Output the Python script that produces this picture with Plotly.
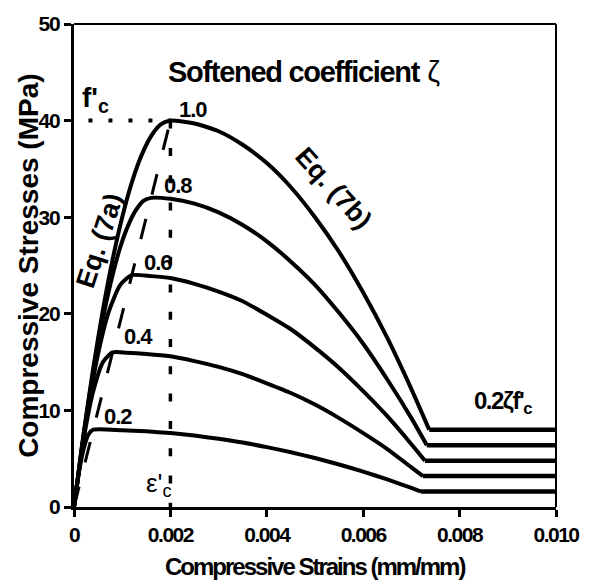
import plotly.graph_objects as go

# ---------------- data ----------------
zeta_labels = ["1.0", "0.8", "0.6", "0.4", "0.2"]

strain_10 = [0, 0.0002, 0.0004, 0.0006, 0.0008, 0.001, 0.0012, 0.0014, 0.0016, 0.0018, 0.002,
             0.0025, 0.003, 0.0035, 0.004, 0.0045, 0.005, 0.0055, 0.006, 0.0065, 0.007, 0.00737]
stress_10 = [0, 7.6, 14.4, 20.4, 25.6, 30.0, 33.6, 36.4, 38.4, 39.6, 40.0,
             39.7, 38.9, 37.5, 35.6, 33.1, 30.0, 26.4, 22.2, 17.5, 12.2, 8.0]

strain_08 = [0, 0.00016, 0.00032, 0.00048, 0.00064, 0.0008, 0.00096, 0.00112, 0.00128, 0.00144,
             0.0016, 0.002, 0.0025, 0.003, 0.0035, 0.004, 0.0045, 0.005, 0.0055, 0.006, 0.0065,
             0.007, 0.00732]
stress_08 = [0, 6.1, 11.5, 16.3, 20.5, 24.0, 26.9, 29.1, 30.7, 31.7,
             32.0, 31.9, 31.4, 30.5, 29.2, 27.5, 25.4, 23.0, 20.1, 16.9, 13.2,
             9.2, 6.4]

strain_06 = [0, 0.00024, 0.00048, 0.00072, 0.00096, 0.0012, 0.0016, 0.002, 0.0025, 0.003,
             0.0035, 0.004, 0.0045, 0.005, 0.0055, 0.006, 0.0065, 0.007, 0.00728]
stress_06 = [0, 8.6, 15.4, 20.2, 23.0, 24.0, 23.9, 23.7, 23.1, 22.3,
             21.3, 19.9, 18.4, 16.5, 14.4, 12.0, 9.4, 6.5, 4.8]

strain_04 = [0, 0.0002, 0.0004, 0.0006, 0.0008, 0.0011, 0.0015, 0.002, 0.0025, 0.003,
             0.0035, 0.004, 0.0045, 0.005, 0.0055, 0.006, 0.0065, 0.007, 0.00724]
stress_04 = [0, 7.0, 12.0, 15.0, 16.0, 15.97, 15.85, 15.6, 15.1, 14.5,
             13.75, 12.8, 11.8, 10.6, 9.2, 7.65, 6.0, 4.1, 3.2]

strain_02 = [0, 0.0001, 0.0002, 0.0003, 0.0004, 0.001, 0.0015, 0.002, 0.0025, 0.003,
             0.0035, 0.004, 0.0045, 0.005, 0.0055, 0.006, 0.0065, 0.007, 0.0072]
stress_02 = [0, 3.5, 6.0, 7.5, 8.0, 7.95, 7.83, 7.65, 7.39, 7.06,
             6.67, 6.2, 5.67, 5.07, 4.4, 3.66, 2.85, 1.97, 1.6]

tail_end_strain = 0.010

# Eq. (7a) dashed locus of peaks, and dotted guide lines
eq7a_strain = [0, 0.002]
eq7a_stress = [0, 40]
fc_guide_strain = [0.0003, 0.002]
fc_guide_stress = [40, 40]
eps_guide_strain = [0.002, 0.002]
eps_guide_stress = [40, 0]

x_ticks = [0, 0.002, 0.004, 0.006, 0.008, 0.010]
x_ticklabels = ["0", "0.002", "0.004", "0.006", "0.008", "0.010"]
y_ticks = [0, 10, 20, 30, 40, 50]
y_ticklabels = ["0", "10", "20", "30", "40", "50"]

# label anchor points (strain, stress)
zeta_label_x = [0.00246, 0.00215, 0.00174, 0.00133, 0.00092]
zeta_label_y = [41.2, 33.3, 25.3, 17.7, 9.4]

SANS = "Liberation Sans, Arial, sans-serif"


def tight(s, ls):
    return "<span style='letter-spacing:%spx'>%s</span>" % (ls, s)


curves = [(strain_10, stress_10), (strain_08, stress_08), (strain_06, stress_06),
          (strain_04, stress_04), (strain_02, stress_02)]

fig = go.Figure()

# guides
fig.add_trace(go.Scatter(x=fc_guide_strain, y=fc_guide_stress, mode="lines",
                         line=dict(color="black", width=4, dash="4px,16px"),
                         hoverinfo="skip", showlegend=False))
fig.add_trace(go.Scatter(x=eps_guide_strain, y=eps_guide_stress, mode="lines",
                         line=dict(color="black", width=3.5, dash="8px,19.3px"),
                         hoverinfo="skip", showlegend=False))
fig.add_trace(go.Scatter(x=eq7a_strain, y=eq7a_stress, mode="lines",
                         line=dict(color="black", width=3, dash="21px,25px"),
                         hoverinfo="skip", showlegend=False))

for sx, sy in curves:
    fig.add_trace(go.Scatter(x=sx, y=sy, mode="lines",
                             line=dict(color="black", width=4, shape="spline", smoothing=0.6),
                             showlegend=False))
    fig.add_trace(go.Scatter(x=[sx[-1], tail_end_strain], y=[sy[-1], sy[-1]], mode="lines",
                             line=dict(color="black", width=4.5),
                             showlegend=False))

annotations = []
for lab, lx, ly in zip(zeta_labels, zeta_label_x, zeta_label_y):
    annotations.append(dict(x=lx, y=ly, text=tight(lab, -1), showarrow=False,
                            xanchor="center", yanchor="middle",
                            font=dict(family=SANS, size=22, color="black", weight="bold")))

annotations += [
    dict(x=0.00478, y=45.0, xanchor="center", yanchor="middle",
         text=tight("<b>Softened coefficient</b>", -1.3) + " ζ", showarrow=False,
         font=dict(family=SANS, size=29, color="black")),
    dict(x=0.00054, y=27.6, text="Eq. (7a)", textangle=-72, showarrow=False,
         xanchor="center", yanchor="middle",
         font=dict(family=SANS, size=27, color="black", weight="bold")),
    dict(x=0.00538, y=33.0, text="Eq. (7b)", textangle=48, showarrow=False,
         xanchor="center", yanchor="middle",
         font=dict(family=SANS, size=27, color="black", weight="bold")),
    dict(x=0.00012, y=42.2, text="f'<sub>c</sub>", xanchor="left", yanchor="middle",
         showarrow=False,
         font=dict(family=SANS, size=28, color="black", weight="bold")),
    dict(x=0.00145, y=2.3, text="ε'<sub>c</sub>", xanchor="left", yanchor="middle",
         showarrow=False,
         font=dict(family=SANS, size=26, color="black")),
    dict(x=0.00825, y=10.8, text=tight("0.2ζf'", -1.5) + "<sub>c</sub>", xanchor="left",
         yanchor="middle", showarrow=False,
         font=dict(family=SANS, size=24, color="black", weight="bold")),
    dict(x=0.5, y=-0.124, xref="paper", yref="paper", xanchor="center", yanchor="middle",
         text=tight("Compressive Strains (mm/mm)", -2),
         showarrow=False, font=dict(family=SANS, size=24, color="black", weight="bold")),
    dict(x=-0.0947, y=0.5, xref="paper", yref="paper", xanchor="center", yanchor="middle",
         text="Compressive Stresses (MPa)",
         textangle=-90, showarrow=False,
         font=dict(family=SANS, size=28, color="black", weight="bold")),
]

fig.update_layout(
    width=591, height=584,
    margin=dict(l=74, r=31, t=23, b=77),
    paper_bgcolor="white", plot_bgcolor="white",
    showlegend=False,
    annotations=annotations,
    shapes=[
        dict(type="line", xref="paper", yref="paper", x0=0, x1=1, y0=1, y1=1,
             line=dict(color="black", width=2)),
        dict(type="line", xref="paper", yref="paper", x0=1, x1=1, y0=0, y1=1,
             line=dict(color="black", width=2)),
    ],
)
fig.update_xaxes(range=[0, 0.010], tickvals=x_ticks,
                 ticktext=[tight(t, -1.5) for t in x_ticklabels],
                 showgrid=False, zeroline=False, showline=True, linecolor="black", linewidth=3,
                 ticks="outside", ticklen=7, tickwidth=3, tickcolor="black",
                 tickfont=dict(family=SANS, size=21, color="black", weight="bold"))
fig.update_yaxes(range=[0, 50], tickvals=y_ticks,
                 ticktext=[tight(t, -1) for t in y_ticklabels],
                 showgrid=False, zeroline=False, showline=True, linecolor="black", linewidth=3,
                 ticks="outside", ticklen=7, tickwidth=3, tickcolor="black",
                 tickfont=dict(family=SANS, size=21, color="black", weight="bold"))

fig.write_html("out.html")
